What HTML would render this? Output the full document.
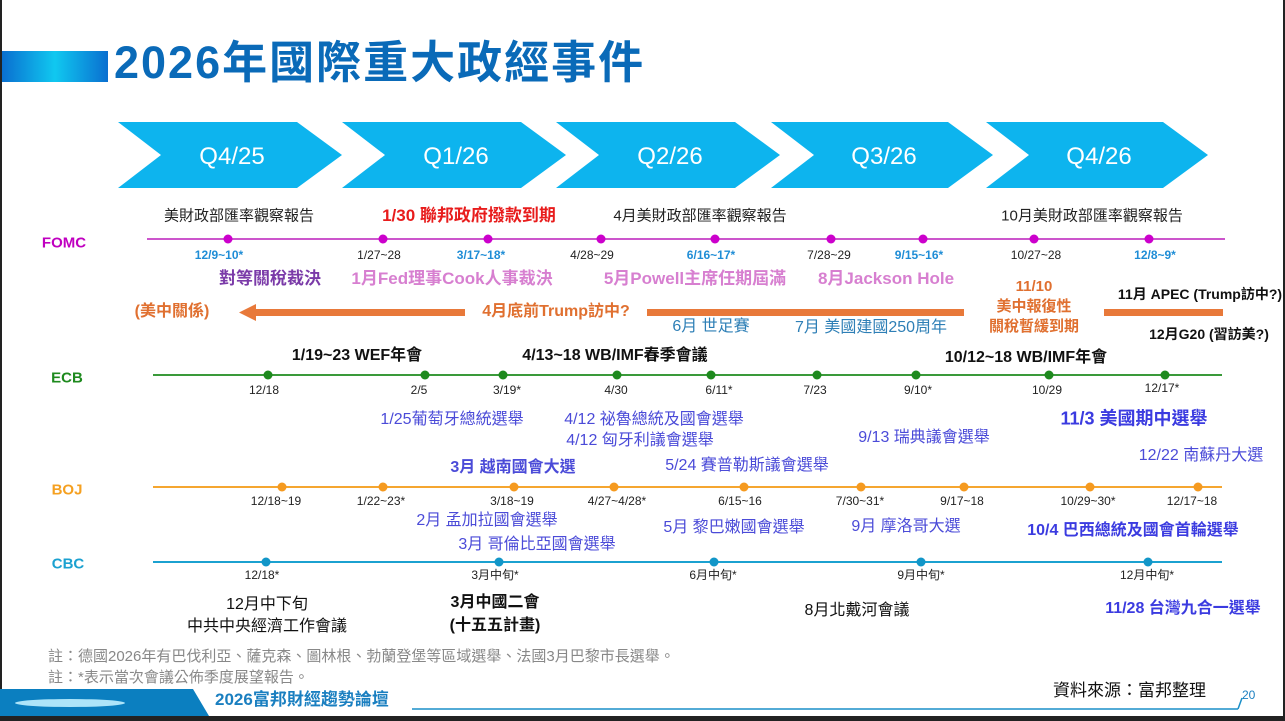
<!DOCTYPE html>
<html><head><meta charset="utf-8">
<style>
*{margin:0;padding:0;box-sizing:border-box}
body{width:1285px;height:721px;position:relative;background:#fff;overflow:hidden;font-family:"Liberation Sans","Noto Sans CJK TC",sans-serif;}
.t{position:absolute;transform:translate(-50%,-50%);white-space:nowrap;line-height:1.15;text-align:center}
.l{position:absolute;white-space:nowrap;line-height:1.15}
.b{font-weight:bold}
.d{font-size:12px;color:#222}
.db{font-size:12px;color:#1f8dd6;font-weight:bold}
.v{color:#4b4bd8;font-size:16px}
</style></head><body>
<div style="position:absolute;left:0;top:0;width:2px;height:721px;background:#222"></div>
<div style="position:absolute;right:0;top:0;width:2px;height:721px;background:#222"></div>
<div style="position:absolute;left:0;top:716px;width:1285px;height:5px;background:#222"></div>

<div style="position:absolute;left:2px;top:51px;width:106px;height:31px;background:linear-gradient(90deg,#0a6fd0,#10c8f0 50%,#0a6fd0)"></div>
<div class="l b" style="left:114px;top:37px;font-size:45px;color:#0a6ab8;letter-spacing:2px">2026年國際重大政經事件</div>

<svg width="1285" height="721" style="position:absolute;left:0;top:0">
<g fill="#0db4ee">
<polygon points="118,122 297,122 342,155 297,188 118,188 161,155"/>
<polygon points="342,122 521,122 566,155 521,188 342,188 385,155"/>
<polygon points="556,122 735,122 780,155 735,188 556,188 599,155"/>
<polygon points="771,122 948,122 993,155 948,188 771,188 814,155"/>
<polygon points="986,122 1163,122 1208,155 1163,188 986,188 1029,155"/>
</g>
<g font-family="Liberation Sans, sans-serif" font-size="24" fill="#fff" text-anchor="middle">
<text x="232" y="164">Q4/25</text><text x="456" y="164">Q1/26</text><text x="670" y="164">Q2/26</text><text x="884" y="164">Q3/26</text><text x="1099" y="164">Q4/26</text>
</g>
<line x1="147" y1="239" x2="1225" y2="239" stroke="#cc55cc" stroke-width="2"/>
<g fill="#cc00cc"><circle cx="228" cy="239" r="4.5"/><circle cx="383" cy="239" r="4.5"/><circle cx="488" cy="239" r="4.5"/><circle cx="601" cy="239" r="4.5"/><circle cx="715" cy="239" r="4.5"/><circle cx="831" cy="239" r="4.5"/><circle cx="923" cy="239" r="4.5"/><circle cx="1034" cy="239" r="4.5"/><circle cx="1149" cy="239" r="4.5"/></g>
<line x1="153" y1="375" x2="1222" y2="375" stroke="#3a9a3a" stroke-width="2"/>
<g fill="#1e8a1e"><circle cx="268" cy="375" r="4.5"/><circle cx="425" cy="375" r="4.5"/><circle cx="503" cy="375" r="4.5"/><circle cx="617" cy="375" r="4.5"/><circle cx="711" cy="375" r="4.5"/><circle cx="817" cy="375" r="4.5"/><circle cx="916" cy="375" r="4.5"/><circle cx="1049" cy="375" r="4.5"/><circle cx="1165" cy="375" r="4.5"/></g>
<line x1="153" y1="487" x2="1222" y2="487" stroke="#f5a630" stroke-width="2"/>
<g fill="#f59a20"><circle cx="282" cy="487" r="4.5"/><circle cx="383" cy="487" r="4.5"/><circle cx="514" cy="487" r="4.5"/><circle cx="614" cy="487" r="4.5"/><circle cx="744" cy="487" r="4.5"/><circle cx="861" cy="487" r="4.5"/><circle cx="964" cy="487" r="4.5"/><circle cx="1090" cy="487" r="4.5"/><circle cx="1198" cy="487" r="4.5"/></g>
<line x1="153" y1="562" x2="1222" y2="562" stroke="#1ba1d0" stroke-width="2"/>
<g fill="#1296c8"><circle cx="266" cy="562" r="4.5"/><circle cx="499" cy="562" r="4.5"/><circle cx="714" cy="562" r="4.5"/><circle cx="921" cy="562" r="4.5"/><circle cx="1148" cy="562" r="4.5"/></g>
<g fill="#e8793a">
<rect x="252" y="309" width="213" height="7"/><polygon points="239,312.5 256,304 256,321"/>
<rect x="647" y="309" width="317" height="7"/>
<rect x="1104" y="309" width="119" height="7"/>
</g>
<polygon points="0,689 193,689 209,716 0,716" fill="#0b7fc0"/>
<ellipse cx="70" cy="703" rx="55" ry="4" fill="#bff0ff" opacity="0.9"/>
<line x1="412" y1="709" x2="1238" y2="709" stroke="#1a8fc8" stroke-width="1.5"/>
<line x1="1238" y1="709" x2="1242" y2="698" stroke="#1a8fc8" stroke-width="1.5"/>
</svg>

<div class="t" style="left:239px;top:216px;font-size:15px;color:#222">美財政部匯率觀察報告</div>
<div class="t b" style="left:469px;top:216px;font-size:17px;color:#e81c1c">1/30 聯邦政府撥款到期</div>
<div class="t" style="left:700px;top:216px;font-size:15px;color:#222">4月美財政部匯率觀察報告</div>
<div class="t" style="left:1092px;top:216px;font-size:15px;color:#222">10月美財政部匯率觀察報告</div>

<div class="t b" style="left:64px;top:243px;font-size:15px;color:#c000c0">FOMC</div>
<div class="t db" style="left:219px;top:256px">12/9~10*</div>
<div class="t d" style="left:379px;top:256px">1/27~28</div>
<div class="t db" style="left:481px;top:256px">3/17~18*</div>
<div class="t d" style="left:592px;top:256px">4/28~29</div>
<div class="t db" style="left:711px;top:256px">6/16~17*</div>
<div class="t d" style="left:829px;top:256px">7/28~29</div>
<div class="t db" style="left:919px;top:256px">9/15~16*</div>
<div class="t d" style="left:1036px;top:256px">10/27~28</div>
<div class="t db" style="left:1155px;top:256px">12/8~9*</div>

<div class="t b" style="left:270px;top:279px;font-size:17px;color:#7a3aa8">對等關稅裁決</div>
<div class="t b" style="left:452px;top:279px;font-size:17px;color:#d77fd0">1月Fed理事Cook人事裁決</div>
<div class="t b" style="left:695px;top:279px;font-size:17px;color:#d77fd0">5月Powell主席任期屆滿</div>
<div class="t b" style="left:886px;top:279px;font-size:17px;color:#d77fd0">8月Jackson Hole</div>
<div class="t b" style="left:1034px;top:307px;font-size:15px;color:#e07030;line-height:20px">11/10<br>美中報復性<br>關稅暫緩到期</div>
<div class="t b" style="left:1200px;top:294px;font-size:14px;color:#111">11月 APEC (Trump訪中?)</div>
<div class="t b" style="left:1209px;top:334px;font-size:14px;color:#111">12月G20 (習訪美?)</div>
<div class="t b" style="left:172px;top:312px;font-size:16px;color:#e07030">(美中關係)</div>
<div class="t b" style="left:556px;top:312px;font-size:16px;color:#e07030">4月底前Trump訪中?</div>
<div class="t" style="left:711px;top:327px;font-size:16px;color:#2e7fb6">6月 世足賽</div>
<div class="t" style="left:871px;top:328px;font-size:16px;color:#2e7fb6">7月 美國建國250周年</div>

<div class="t b" style="left:357px;top:356px;font-size:16px;color:#111">1/19~23 WEF年會</div>
<div class="t b" style="left:615px;top:356px;font-size:16px;color:#111">4/13~18 WB/IMF春季會議</div>
<div class="t b" style="left:1026px;top:358px;font-size:16px;color:#111">10/12~18 WB/IMF年會</div>
<div class="t b" style="left:67px;top:378px;font-size:15px;color:#1e8a1e">ECB</div>
<div class="t d" style="left:264px;top:391px">12/18</div>
<div class="t d" style="left:419px;top:391px">2/5</div>
<div class="t d" style="left:507px;top:391px">3/19*</div>
<div class="t d" style="left:616px;top:391px">4/30</div>
<div class="t d" style="left:719px;top:391px">6/11*</div>
<div class="t d" style="left:815px;top:391px">7/23</div>
<div class="t d" style="left:918px;top:391px">9/10*</div>
<div class="t d" style="left:1047px;top:391px">10/29</div>
<div class="t d" style="left:1162px;top:389px">12/17*</div>

<div class="t v" style="left:452px;top:420px">1/25葡萄牙總統選舉</div>
<div class="t v" style="left:654px;top:420px">4/12 祕魯總統及國會選舉</div>
<div class="t v" style="left:640px;top:441px">4/12 匈牙利議會選舉</div>
<div class="t v" style="left:924px;top:438px">9/13 瑞典議會選舉</div>
<div class="t v b" style="left:1134px;top:419px;font-size:18px;color:#3b3be0">11/3 美國期中選舉</div>
<div class="t v b" style="left:513px;top:468px">3月 越南國會大選</div>
<div class="t v" style="left:747px;top:466px">5/24 賽普勒斯議會選舉</div>
<div class="t v" style="left:1201px;top:456px">12/22 南蘇丹大選</div>

<div class="t b" style="left:67px;top:490px;font-size:15px;color:#f5a020">BOJ</div>
<div class="t d" style="left:276px;top:502px">12/18~19</div>
<div class="t d" style="left:381px;top:502px">1/22~23*</div>
<div class="t d" style="left:512px;top:502px">3/18~19</div>
<div class="t d" style="left:617px;top:502px">4/27~4/28*</div>
<div class="t d" style="left:740px;top:502px">6/15~16</div>
<div class="t d" style="left:860px;top:502px">7/30~31*</div>
<div class="t d" style="left:962px;top:502px">9/17~18</div>
<div class="t d" style="left:1088px;top:502px">10/29~30*</div>
<div class="t d" style="left:1192px;top:502px">12/17~18</div>
<div class="t v" style="left:487px;top:521px">2月 孟加拉國會選舉</div>
<div class="t v" style="left:537px;top:545px">3月 哥倫比亞國會選舉</div>
<div class="t v" style="left:734px;top:528px">5月 黎巴嫩國會選舉</div>
<div class="t v" style="left:906px;top:527px">9月 摩洛哥大選</div>
<div class="t v b" style="left:1133px;top:531px;color:#3b3be0">10/4 巴西總統及國會首輪選舉</div>

<div class="t b" style="left:68px;top:564px;font-size:15px;color:#1ba1d0">CBC</div>
<div class="t d" style="left:262px;top:576px">12/18*</div>
<div class="t d" style="left:495px;top:576px">3月中旬*</div>
<div class="t d" style="left:713px;top:576px">6月中旬*</div>
<div class="t d" style="left:921px;top:576px">9月中旬*</div>
<div class="t d" style="left:1147px;top:576px">12月中旬*</div>
<div class="t" style="left:267px;top:616px;font-size:16px;color:#111;line-height:22px">12月中下旬<br>中共中央經濟工作會議</div>
<div class="t b" style="left:495px;top:614px;font-size:16px;color:#111;line-height:23px">3月中國二會<br>(十五五計畫)</div>
<div class="t" style="left:857px;top:611px;font-size:16px;color:#111">8月北戴河會議</div>
<div class="t b" style="left:1183px;top:609px;font-size:16px;color:#3b3be0">11/28 台灣九合一選舉</div>

<div class="l" style="left:48px;top:648px;font-size:15px;color:#888">註：德國2026年有巴伐利亞、薩克森、圖林根、勃蘭登堡等區域選舉、法國3月巴黎市長選舉。</div>
<div class="l" style="left:48px;top:669px;font-size:15px;color:#888">註：*表示當次會議公佈季度展望報告。</div>
<div class="l b" style="left:215px;top:690px;font-size:17px;color:#1a7fc0">2026富邦財經趨勢論壇</div>
<div class="l" style="left:1053px;top:681px;font-size:17px;color:#111">資料來源：富邦整理</div>
<div class="l" style="left:1242px;top:689px;font-size:12px;color:#1a7fc0">20</div>
</body></html>
